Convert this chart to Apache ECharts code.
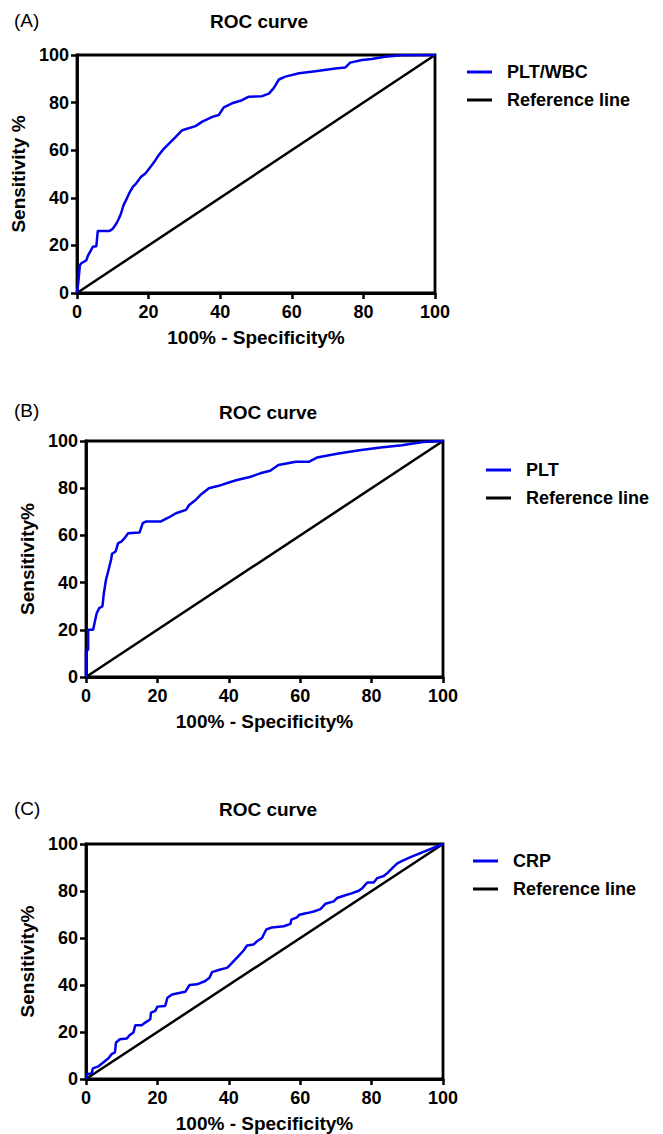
<!DOCTYPE html>
<html>
<head>
<meta charset="utf-8">
<script src="https://cdn.jsdelivr.net/npm/echarts@6/dist/echarts.min.js"></script>
<style>
html,body{margin:0;padding:0;background:#fff;}
#chart{width:663px;height:1134px;}
</style>
</head>
<body>
<div id="chart"></div>
<script>
// ---- Data ----
const panelLabels = ['(A)', '(B)', '(C)'];
const panelTitle = 'ROC curve';
const markerNames = ['PLT/WBC', 'PLT', 'CRP'];
const refName = 'Reference line';
const xAxisTitle = '100% - Specificity%';
const yAxisTitles = ['Sensitivity %', 'Sensitivity%', 'Sensitivity%'];
const tickMin = 0, tickMax = 100, tickStep = 20;

// Panel A: PLT/WBC
const pltWbcFpr = [0,0.4,0.8,1.2,2.6,3.1,4.4,5.4,5.8,9.1,10,11,11.7,12.3,13,13.7,14.6,15.6,16.5,17.9,19.1,20.2,21.6,22.5,23.9,25.7,27.1,29.4,33.1,35,37.8,39.6,41,43.3,46.1,48,51.7,53.6,55,56.4,58.2,62,66.6,72.2,74.9,76.3,79.6,82.3,86,90.6,100];
const pltWbcTpr = [0,5,11.6,12.5,13.7,15.8,19.4,19.6,26.1,26.1,27,29.2,31.3,33.4,36.9,39,42,44.6,46,48.8,50.2,52.3,55.1,57.2,60,62.8,64.9,68.4,70.1,72,74,74.8,78,79.7,81,82.5,82.7,83.8,86.2,89.7,90.9,92.3,93.2,94.3,94.7,96.8,97.9,98.3,99.3,99.9,100];

// Panel B: PLT
const pltFpr = [0,0,0.6,0.6,2,2.5,3,3.7,4.6,5,5.6,6.2,7,7.3,8.3,9,9.9,10.8,11.8,15,15.9,16.9,21,23.3,25.2,28,28.9,30.7,32.1,33.3,34.4,37.2,40,42.3,45.6,48.8,51.6,53.9,58.8,62.4,64.7,70.7,76.6,82.5,88.5,94.4,100];
const pltTpr = [0,11,11.6,20,20,23.6,27,29.2,29.9,35.5,41.2,44.7,49.6,52.2,53.2,56.7,57.4,58.8,60.9,61.2,65.2,65.9,65.9,67.7,69.4,70.8,72.9,75,77.2,78.6,80,81,82.4,83.5,84.6,86.3,87.4,89.8,91.2,91.2,93,94.7,96.1,97.2,98.2,99.6,100];

// Panel C: CRP
const crpFpr = [0,0.4,1.6,1.9,3.5,4.9,6.3,7.2,8.1,8.4,9.5,11.4,12.2,13.3,13.8,15.6,16.6,18,18.2,19.4,20,22.2,22.8,24.1,26.4,27.8,29,31.1,33.4,34.6,35.3,37.6,39.5,40.2,40.9,42.7,44.2,45.1,46.9,47.9,49.3,50.5,52.1,55.4,57.3,57.5,59.1,59.8,61.9,63.8,65.7,67.1,69.4,70.3,72.2,74.6,76.4,77.4,78.8,80.6,81.6,83.4,84.4,85.8,87.2,88.6,90.9,100];
const crpTpr = [0,2.1,2.4,4.5,5.4,7.1,8.8,10.6,11.3,15.5,16.9,17.2,18.6,19.8,22.9,22.9,24,25.4,28.2,29,30.8,31.1,34.6,36,36.7,37.1,40,40.3,41.7,43.1,45.5,46.6,47.3,48.3,49.4,52.3,54.8,56.8,57.2,58.6,60,63.6,64.5,65,66,67.8,68.8,69.9,70.6,71.3,72.3,74.6,75.6,77,78,79.1,80.1,81.2,83.6,83.6,85.5,86.4,87.6,89.7,91.8,92.8,94.4,100];

const refFpr = [0, 100];
const refTpr = [0, 100];

// ---- Layout ----
const FONT = '"Liberation Sans", Arial, Helvetica, sans-serif';
const grids = [
  {left: 77, top: 55, width: 358, height: 238},
  {left: 86, top: 441, width: 357, height: 236},
  {left: 86, top: 844, width: 357, height: 236}
];
const labelPos = [{x: 14, y: 22}, {x: 14, y: 412}, {x: 14, y: 810}];
const titlePos = [{x: 259, y: 21}, {x: 268, y: 412}, {x: 268, y: 809}];
const legendPos = [{left: 462, top: 57}, {left: 481, top: 455}, {left: 468, top: 846}];

const fprs = [pltWbcFpr, pltFpr, crpFpr];
const tprs = [pltWbcTpr, pltTpr, crpTpr];
const zip = (a, b) => a.map((v, i) => [v, b[i]]);

const BLUE = '#0000ee';

const option = {
  backgroundColor: '#fff',
  animation: false,
  grid: grids.map(g => Object.assign({show: true, borderColor: '#000', borderWidth: 2.8, backgroundColor: 'transparent'}, g)),
  xAxis: grids.map((g, i) => ({
    gridIndex: i, type: 'value', min: tickMin, max: tickMax, interval: tickStep,
    axisLine: {show: true, onZero: false, lineStyle: {color: '#000', width: 2.8}},
    axisTick: {show: true, length: 6, lineStyle: {color: '#000', width: 2.5}},
    axisLabel: {color: '#000', fontSize: 18, fontWeight: 'bold', fontFamily: FONT, margin: 10},
    splitLine: {show: false},
    name: xAxisTitle, nameLocation: 'middle', nameGap: 35,
    nameTextStyle: {color: '#000', fontSize: 19, fontWeight: 'bold', fontFamily: FONT}
  })),
  yAxis: grids.map((g, i) => ({
    gridIndex: i, type: 'value', min: tickMin, max: tickMax, interval: tickStep,
    axisLine: {show: true, onZero: false, lineStyle: {color: '#000', width: 2.8}},
    axisTick: {show: true, length: 6, lineStyle: {color: '#000', width: 2.5}},
    axisLabel: {color: '#000', fontSize: 18, fontWeight: 'bold', fontFamily: FONT, margin: 8},
    splitLine: {show: false},
    name: yAxisTitles[i], nameLocation: 'middle', nameGap: 35, nameRotate: 90,
    nameTextStyle: {color: '#000', fontSize: 19, fontWeight: 'bold', fontFamily: FONT}
  })),
  legend: legendPos.map((p, i) => ({
    left: p.left, top: p.top, orient: 'vertical',
    icon: 'rect', itemWidth: 25, itemHeight: 3, itemGap: 8,
    data: [markerNames[i], refName],
    selectedMode: false,
    textStyle: {color: '#000', fontSize: 18, fontWeight: 'bold', fontFamily: FONT, lineHeight: 20, padding: [0, 0, 0, 10]}
  })),
  graphic: [].concat(
    labelPos.map((p, i) => ({
      type: 'text', left: p.x, top: p.y - 11,
      style: {text: panelLabels[i], fill: '#000', font: '19px ' + FONT}
    })),
    titlePos.map(p => ({
      type: 'text', x: p.x, y: p.y,
      style: {text: panelTitle, fill: '#000', font: 'bold 19px ' + FONT, textAlign: 'center', textVerticalAlign: 'middle'}
    }))
  ),
  series: [].concat(
    grids.map((g, i) => ({
      name: refName, type: 'line', xAxisIndex: i, yAxisIndex: i,
      data: zip(refFpr, refTpr), symbol: 'none', showSymbol: false,
      lineStyle: {color: '#000', width: 2.5}, itemStyle: {color: '#000'}, z: 2
    })),
    grids.map((g, i) => ({
      name: markerNames[i], type: 'line', xAxisIndex: i, yAxisIndex: i,
      data: zip(fprs[i], tprs[i]), symbol: 'none', showSymbol: false,
      lineStyle: {color: BLUE, width: 2.5}, itemStyle: {color: BLUE}, z: 3
    }))
  )
};

const chart = echarts.init(document.getElementById('chart'), null, {renderer: 'svg'});
chart.setOption(option);
</script>
</body>
</html>
